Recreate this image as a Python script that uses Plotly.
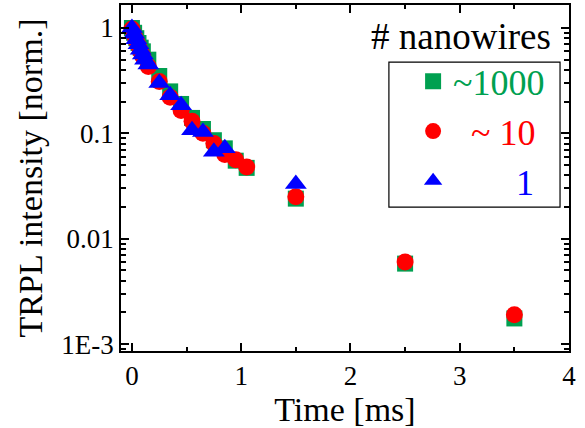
import numpy as np
import plotly.graph_objects as go

# Time-resolved PL decay for different numbers of nanowires
t_many = [0, 0.02, 0.04, 0.06, 0.08, 0.10, 0.15, 0.25, 0.35, 0.45, 0.55, 0.65,
          0.75, 0.85, 0.95, 1.05, 1.5, 2.5, 3.5]
i_many = [1.0, 0.9, 0.8, 0.72, 0.65, 0.6, 0.5, 0.35, 0.25, 0.19, 0.14, 0.11,
          0.086, 0.072, 0.055, 0.047, 0.024, 0.0058, 0.00175]

t_ten = [0, 0.02, 0.04, 0.06, 0.08, 0.10, 0.15, 0.25, 0.35, 0.45, 0.55, 0.65,
         0.75, 0.85, 0.95, 1.05, 1.5, 2.5, 3.5]
i_ten = [0.98, 0.86, 0.76, 0.68, 0.6, 0.54, 0.43, 0.31, 0.22, 0.165, 0.13, 0.1,
         0.08, 0.063, 0.056, 0.048, 0.025, 0.006, 0.0019]

t_one = [0, 0.02, 0.04, 0.06, 0.08, 0.10, 0.12, 0.15, 0.25, 0.35, 0.45, 0.55,
         0.65, 0.75, 0.85, 1.5]
i_one = [1.0, 0.88, 0.78, 0.7, 0.62, 0.56, 0.5, 0.45, 0.30, 0.23, 0.185, 0.107,
         0.103, 0.067, 0.072, 0.033]

y_tickvals = [0.001, 0.01, 0.1, 1]
y_ticktext = ["1E-3", "0.01", "0.1", "1"]
x_tickvals = [0, 1, 2, 3, 4]

GREEN = "#00a050"
RED = "#ff0000"
BLUE = "#0000ff"
FONT = "Liberation Serif"
NB = "\u00a0"

fig = go.Figure()
fig.add_trace(go.Scatter(
    x=t_many, y=i_many, mode="markers",
    name=f'<span style="color:{GREEN}">~1000</span>',
    marker=dict(symbol="square", size=16, color=GREEN, line=dict(width=0)),
))
fig.add_trace(go.Scatter(
    x=t_ten, y=i_ten, mode="markers",
    name=f'<span style="color:{RED}">{NB * 2}~ 10</span>',
    marker=dict(symbol="circle", size=17, color=RED, line=dict(width=0)),
))
fig.add_trace(go.Scatter(
    x=t_one, y=i_one, mode="markers",
    name=f'<span style="color:{BLUE}">{NB * 7}1</span>',
    marker=dict(symbol="triangle-up", size=19, color=BLUE, line=dict(width=0)),
))

minor_y = [m * 10.0 ** e for e in range(-4, 1) for m in range(2, 10)]

axis_common = dict(
    showline=True, linecolor="black", linewidth=1.5, mirror="allticks",
    ticks="inside", ticklen=8, tickwidth=1.5, tickcolor="black",
    showgrid=False, zeroline=False,
    tickfont=dict(family=FONT, size=27, color="black"),
)

fig.update_xaxes(
    range=[-0.1, 4], tickmode="array", tickvals=x_tickvals,
    minor=dict(ticks="inside", ticklen=4, tickwidth=1.5, tickcolor="black",
               dtick=0.5, tick0=0, showgrid=False),
    title=dict(text="Time [ms]", font=dict(family=FONT, size=34, color="black"),
               standoff=4),
    **axis_common,
)
fig.update_yaxes(
    type="log", range=[-3.066, 0.218], tickmode="array",
    tickvals=y_tickvals, ticktext=y_ticktext,
    minor=dict(ticks="inside", ticklen=5, tickwidth=1.5, tickcolor="black",
               tickmode="array", tickvals=minor_y, showgrid=False),
    title=dict(text="TRPL intensity [norm.]",
               font=dict(family=FONT, size=34, color="black"), standoff=8),
    **axis_common,
)

# legend frame and heading
fig.add_shape(type="rect", xref="paper", yref="paper",
              x0=0.598, x1=0.980, y0=0.416, y1=0.835,
              line=dict(color="black", width=1.2), fillcolor="rgba(0,0,0,0)")
fig.add_annotation(text="# nanowires", xref="paper", yref="paper",
                   x=0.965, y=0.910, xanchor="right", yanchor="middle",
                   showarrow=False,
                   font=dict(family=FONT, size=37, color="black"))

fig.update_layout(
    width=585, height=428,
    margin=dict(l=121, r=16, t=5, b=77, autoexpand=False),
    paper_bgcolor="white", plot_bgcolor="white",
    showlegend=True,
    legend=dict(x=0.652, y=0.866, xanchor="left", yanchor="top",
                bgcolor="rgba(0,0,0,0)", borderwidth=0,
                font=dict(family=FONT, size=36, color="black"),
                itemsizing="trace"),
)

fig.write_html("out.html")
